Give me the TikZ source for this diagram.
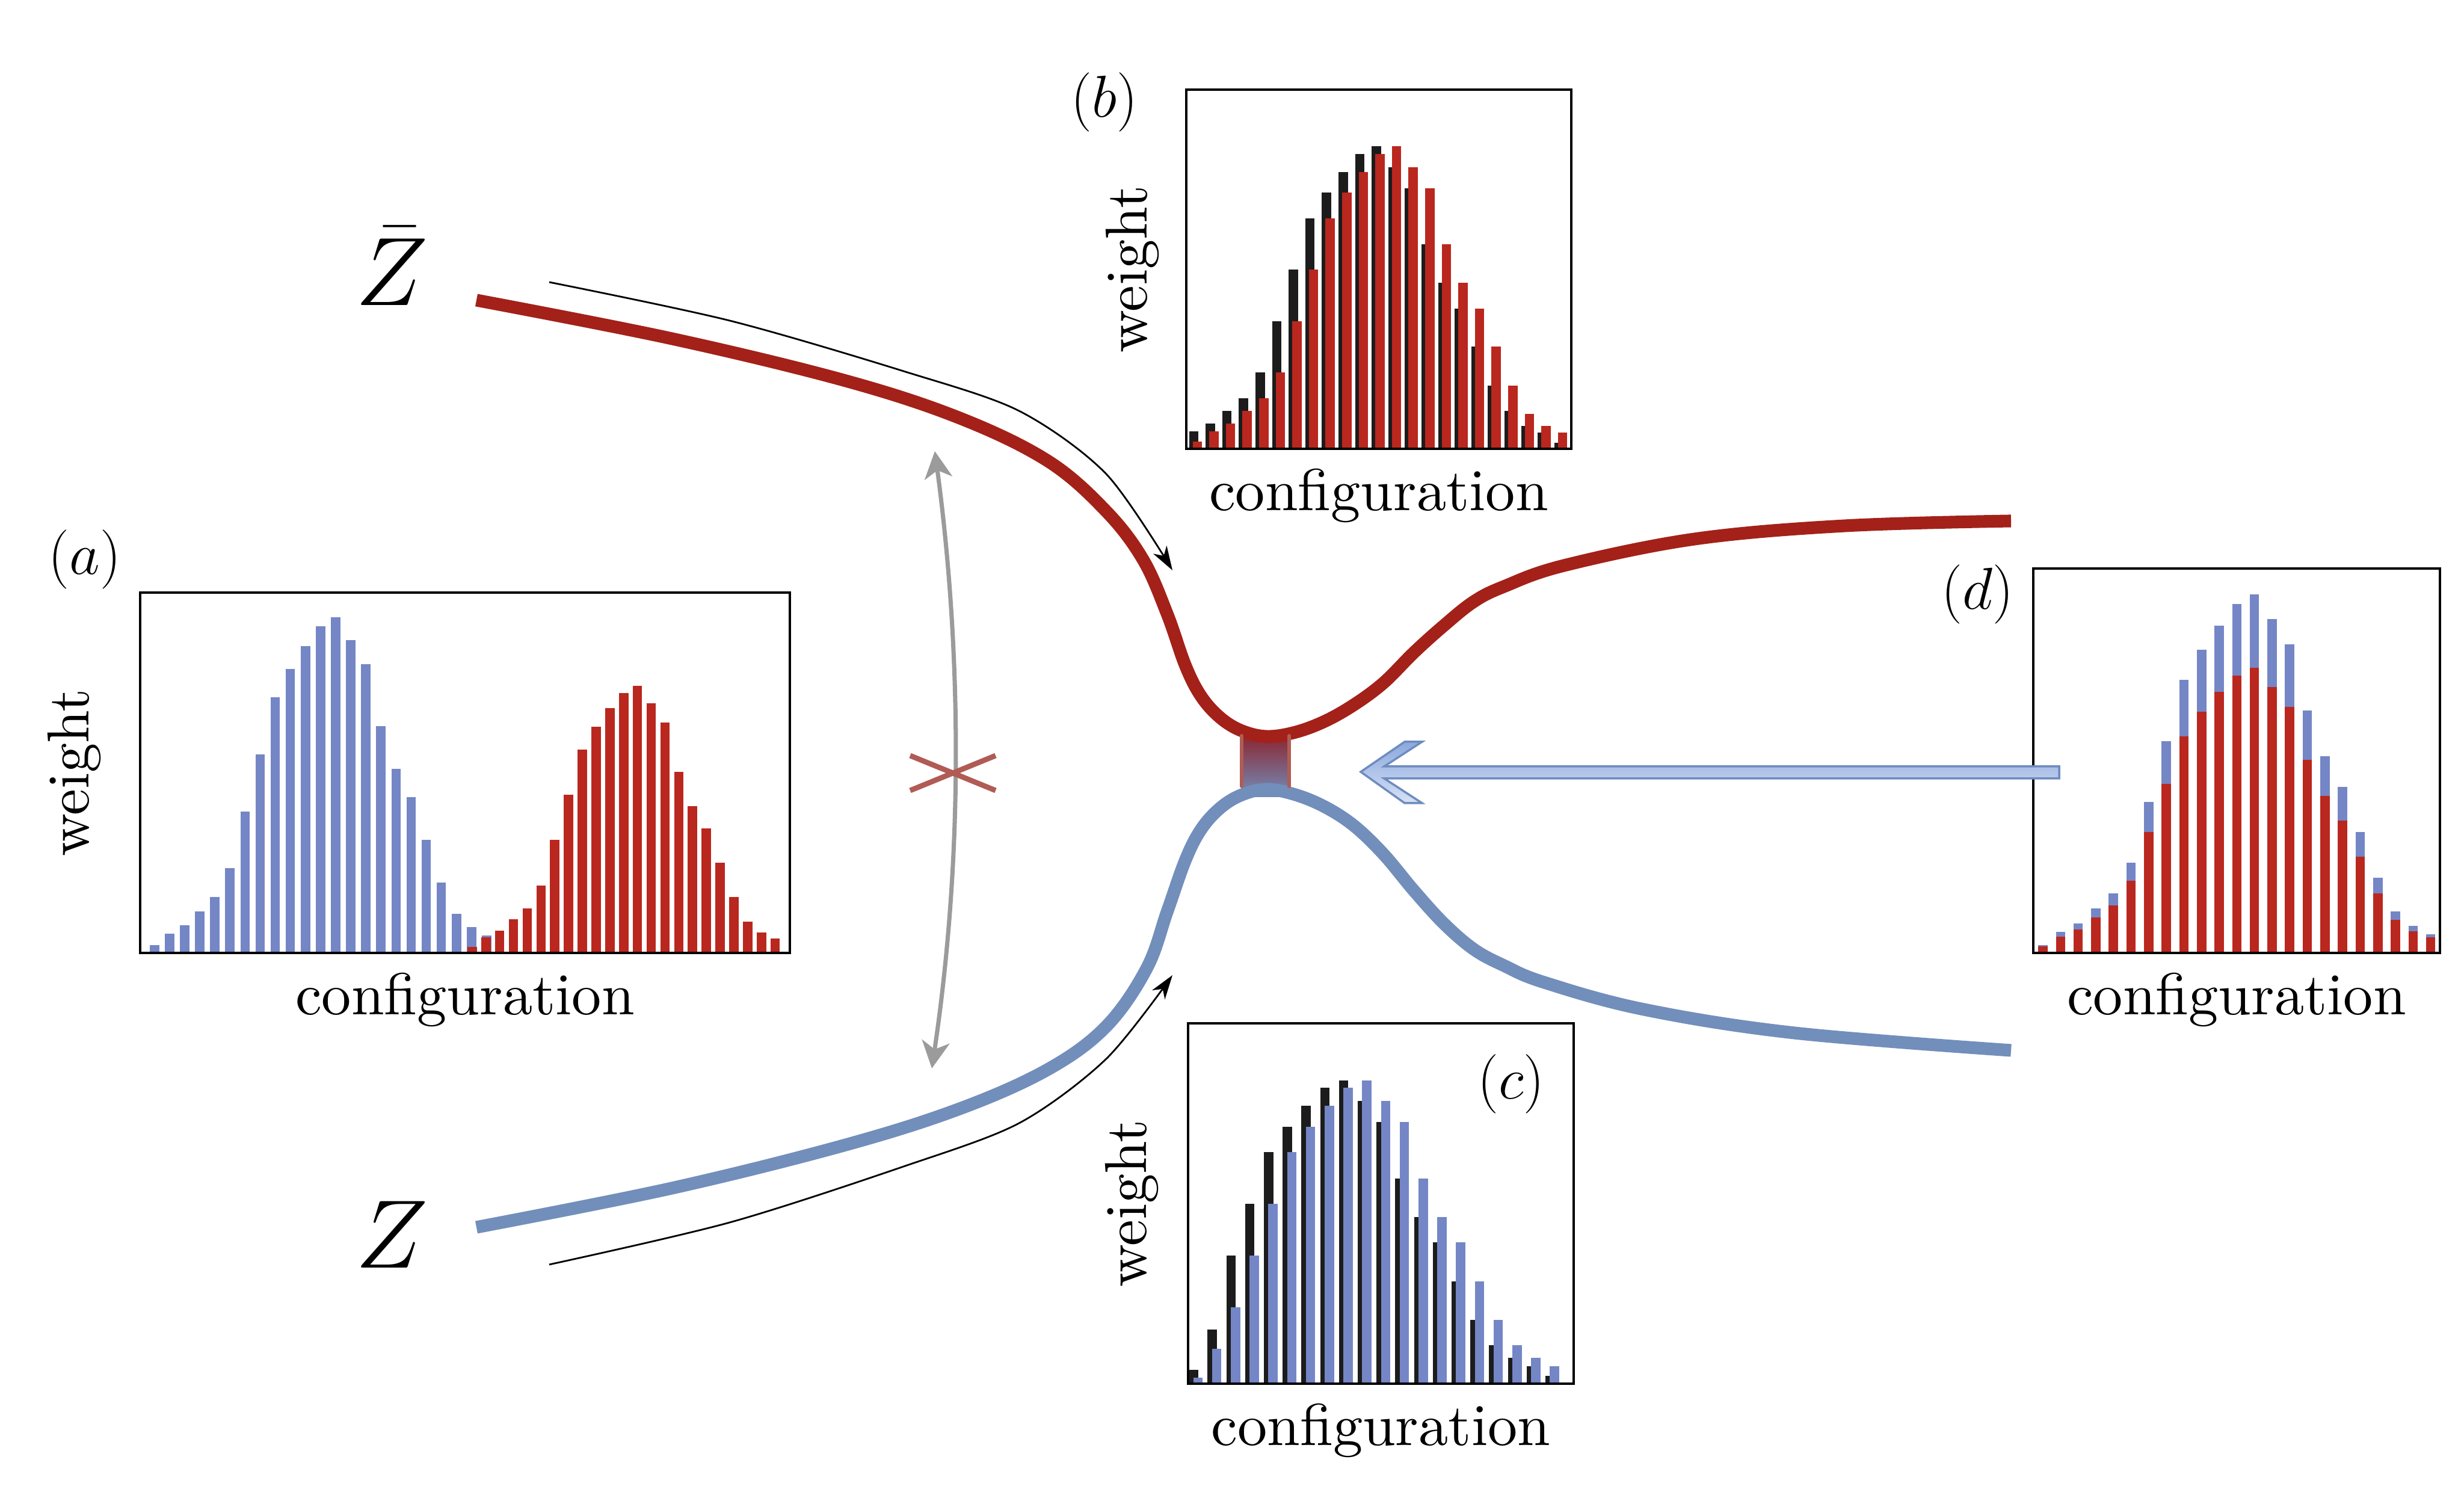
\RequirePackage{fix-cm}
\documentclass[tikz,border=0pt]{standalone}
\usepackage{fontspec}
\newfontfamily\lmten{lmroman10-regular.otf}
\usepackage{tikz}
\usetikzlibrary{arrows.meta,positioning,calc}

\definecolor{barblue}{RGB}{116,134,197}
\definecolor{barred}{RGB}{186,39,30}
\definecolor{barblack}{RGB}{28,28,28}
\definecolor{curvered}{RGB}{163,33,25}
\definecolor{curveblue}{RGB}{114,142,187}
\definecolor{crossred}{RGB}{177,91,85}
\definecolor{arrowgrey}{RGB}{155,155,155}
\definecolor{arrowtop}{RGB}{140,168,222}
\definecolor{arrowbot}{RGB}{214,225,245}
\definecolor{arrowedge}{RGB}{110,140,190}
\definecolor{blockred}{RGB}{140,35,45}
\definecolor{blockmid}{RGB}{128,88,120}
\definecolor{edgered}{RGB}{176,92,86}

\tikzset{
  panel/.style={draw, line width=1.2pt, anchor=south west, inner sep=0pt, outer sep=0pt},
  lbl/.style={font=\lmten\fontsize{28}{34}\selectfont, inner sep=0pt},
  zlbl/.style={font=\fontsize{46}{50}\selectfont, inner sep=0pt, anchor=base},
  branch/.style={line width=6pt},
  flow/.style={line width=0.8pt, -{Stealth[length=4mm, width=2.6mm, inset=1.2mm]}},
  swap/.style={draw=arrowgrey, line width=2pt,
    {Stealth[length=4.5mm, width=4.6mm, inset=1.3mm]}-{Stealth[length=4.5mm, width=4.6mm, inset=1.3mm]}},
  crossline/.style={draw=crossred, line width=2.5pt},
  edgeline/.style={draw=edgered, line width=1.7pt, line cap=round}
}

\begin{document}
\begin{tikzpicture}
    \useasboundingbox (0,0) rectangle (40.96,25);

    % Panel (a): two separate distributions
    \begin{scope}[shift={(2.33,9.16)}]
        \foreach \h [count=\i] in {.021,.054,.077,.115,.155,.235,.393,.551,.710,.788,.852,.907,.932,.868,.802,.630,.511,.432,.314,.195,.108,.071,.049}
            \fill[barblue] ({0.237+0.251*(\i-1)-0.078},0) rectangle ++(0.156,{5.99*\h});
        \foreach \h [count=\i] in {.017,.043,.061,.093,.124,.187,.314,.439,.564,.628,.679,.722,.742,.692,.640,.502,.408,.345,.251,.155,.086,.057,.040}
            \fill[barred] ({5.518+0.229*(\i-1)-0.078},0) rectangle ++(0.156,{5.99*\h});
    \end{scope}
    \node[panel, minimum width=10.8cm, minimum height=5.99cm] (pa) at (2.33,9.16) {};
    \node[lbl, anchor=base] (cfga) at ([yshift=-1.03cm]pa.south) {configuration};
    \node[lbl, rotate=90] (wta) at (1.23,12.155) {weight};
    \node[lbl] (taga) at (1.41,15.70) {$(a)$};

    % Panel (b)
    \begin{scope}[shift={(19.72,17.54)}]
        \foreach \h [count=\i] in {.048,.070,.105,.141,.213,.355,.499,.641,.713,.770,.820,.842,.784,.726,.570,.462,.391,.284,.176,.105,.064,.045,.017}
            \fill[barblack] ({0.124+0.276*(\i-1)-0.078},0) rectangle ++(0.156,{5.97*\h});
        \foreach \h [count=\i] in {.020,.048,.070,.105,.141,.213,.355,.499,.641,.713,.770,.820,.842,.784,.726,.570,.462,.391,.284,.176,.097,.064,.045}
            \fill[barred] ({0.184+0.276*(\i-1)-0.078},0) rectangle ++(0.156,{5.97*\h});
    \end{scope}
    \node[panel, minimum width=6.4cm, minimum height=5.97cm] (pb) at (19.72,17.54) {};
    \node[lbl, anchor=base] (cfgb) at ([yshift=-1.03cm]pb.south) {configuration};
    \node[lbl, rotate=90] (wtb) at (18.82,20.525) {weight};
    \node[lbl] (tagb) at (18.36,23.30) {$(b)$};

    % Panel (c)
    \begin{scope}[shift={(19.75,2.00)}]
        \foreach \h [count=\i] in {.038,.151,.356,.499,.642,.713,.771,.821,.842,.785,.726,.570,.463,.392,.284,.177,.106,.071,.049,.021}
            \fill[barblack] ({0.09+0.312*(\i-1)-0.078},0) rectangle ++(0.156,{5.99*\h});
        \foreach \h [count=\i] in {.017,.097,.212,.356,.499,.642,.713,.771,.821,.842,.785,.726,.570,.463,.392,.284,.177,.106,.071,.049}
            \fill[barblue] ({0.164+0.312*(\i-1)-0.078},0) rectangle ++(0.156,{5.99*\h});
    \end{scope}
    \node[panel, minimum width=6.41cm, minimum height=5.99cm] (pc) at (19.75,2.00) {};
    \node[lbl, anchor=base] (cfgc) at ([yshift=-1.03cm]pc.south) {configuration};
    \node[lbl, rotate=90] (wtc) at (18.81,4.995) {weight};
    \node[lbl] (tagc) at (25.12,6.98) {$(c)$};

    % Panel (d): both distributions on top of each other
    \begin{scope}[shift={(33.80,9.16)}]
        \foreach \h [count=\i] in {.021,.054,.077,.115,.155,.235,.393,.551,.710,.788,.852,.907,.932,.868,.802,.630,.511,.432,.314,.195,.108,.071,.049}
            \fill[barblue] ({0.16+0.293*(\i-1)-0.078},0) rectangle ++(0.156,{6.39*\h});
        \foreach \h [count=\i] in {.017,.043,.061,.093,.124,.187,.314,.439,.564,.628,.679,.722,.742,.692,.640,.502,.408,.345,.251,.155,.086,.057,.040}
            \fill[barred] ({0.16+0.293*(\i-1)-0.078},0) rectangle ++(0.156,{6.39*\h});
    \end{scope}
    \node[panel, minimum width=6.76cm, minimum height=6.39cm] (pd) at (33.80,9.16) {};
    \node[lbl, anchor=base] (cfgd) at ([yshift=-1.03cm]pd.south) {configuration};
    \node[lbl] (tagd) at (32.87,15.12) {$(d)$};

    % Junction block
    \shade[top color=blockred, middle color=blockmid, bottom color=curveblue] (20.64,11.75) rectangle (21.43,12.80);

    % Branches
    \draw[branch, curvered] plot[smooth, tension=0.6] coordinates {(7.92,20.01) (11.17,19.37) (14.06,18.67) (15.98,18.04) (17.43,17.33) (18.39,16.50) (19.00,15.70) (19.40,14.80) (19.70,13.95) (19.95,13.45) (20.25,13.10) (20.60,12.87) (21.03,12.76) (21.50,12.82) (22.00,13.00) (22.50,13.28) (23.00,13.65) (23.50,14.15) (24.00,14.60) (24.50,15.00) (25.00,15.25) (26.00,15.60) (28.17,16.04) (30.67,16.26) (33.43,16.34)};
    \draw[branch, curveblue] plot[smooth, tension=0.6] coordinates {(7.92,4.60) (11.17,5.25) (14.06,5.97) (15.98,6.58) (17.43,7.23) (18.39,7.94) (19.06,8.90) (19.40,9.84) (19.70,10.69) (19.95,11.19) (20.25,11.54) (20.60,11.77) (21.03,11.88) (21.50,11.80) (22.00,11.60) (22.50,11.28) (23.00,10.80) (23.50,10.20) (24.00,9.65) (24.50,9.22) (25.00,8.95) (25.67,8.67) (27.33,8.22) (29.83,7.83) (33.43,7.54)};
    \draw[edgeline] (20.64,12.77) -- (20.64,11.93);
    \draw[edgeline] (21.43,12.77) -- (21.43,11.93);

    % Z labels and flow arrows
    \node[zlbl] (zbar) at (6.51,19.92) {$\bar{Z}$};
    \node[zlbl] (z) at (6.51,3.92) {$Z$};
    \draw[flow] plot[smooth] coordinates {(9.13,20.31) (12.13,19.67) (15.02,18.83) (16.94,18.17) (18.39,17.12) (19.49,15.52)};
    \draw[flow] plot[smooth] coordinates {(9.13,3.98) (12.13,4.68) (15.02,5.61) (16.94,6.33) (18.39,7.40) (19.49,8.79)};

    % Forbidden swap
    \coordinate (gtop) at (15.54,17.50);
    \coordinate (gbot) at (15.49,7.24);
    \draw[swap] (gtop) .. controls (16.0,14.07) and (16.0,10.68) .. (gbot);
    \draw[crossline] (15.13,12.44) -- (16.55,11.86);
    \draw[crossline] (15.13,11.86) -- (16.55,12.44);

    % Big arrow from (d)
    \shadedraw[top color=arrowtop, bottom color=arrowbot, draw=arrowedge, line width=1pt]
        (22.62,12.17) -- (23.35,12.67) -- (23.64,12.67) -- (23.01,12.26) -- (34.23,12.26)
        -- (34.23,12.06) -- (23.01,12.06) -- (23.64,11.65) -- (23.35,11.65) -- cycle;
\end{tikzpicture}
\end{document}
